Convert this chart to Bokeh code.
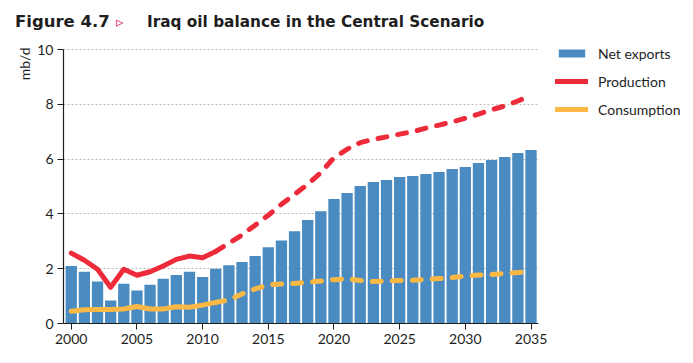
import math
from bokeh.plotting import figure
from bokeh.models import Range1d, Legend, LegendItem, FixedTicker, Title, Div, Grid
from bokeh.layouts import column
from bokeh.embed import file_html
from bokeh.resources import INLINE

years = list(range(2000, 2036))
net_exports = [2.10, 1.89, 1.53, 0.84, 1.45, 1.20, 1.41, 1.63, 1.77, 1.89,
               1.70, 2.00, 2.13, 2.24, 2.46, 2.78, 3.03, 3.37, 3.78, 4.10,
               4.54, 4.76, 5.02, 5.16, 5.24, 5.35, 5.38, 5.46, 5.53, 5.64,
               5.71, 5.86, 5.97, 6.08, 6.22, 6.33]
production = [2.57, 2.31, 1.98, 1.32, 1.98, 1.76, 1.89, 2.10, 2.34, 2.46,
              2.40, 2.63, 2.93, 3.23, 3.59, 3.95, 4.35, 4.71, 5.08, 5.51,
              6.05, 6.36, 6.60, 6.72, 6.81, 6.91, 7.00, 7.13, 7.24, 7.36,
              7.49, 7.64, 7.80, 7.94, 8.12, 8.33]
consumption = [0.45, 0.50, 0.51, 0.51, 0.53, 0.62, 0.53, 0.53, 0.61, 0.59,
               0.67, 0.77, 0.86, 1.08, 1.26, 1.41, 1.44, 1.46, 1.51, 1.55,
               1.60, 1.63, 1.57, 1.53, 1.55, 1.57, 1.58, 1.61, 1.64, 1.68,
               1.73, 1.77, 1.79, 1.83, 1.86, 1.91]
last_historical = 2011
x_ticks = [2000, 2005, 2010, 2015, 2020, 2025, 2030, 2035]
y_ticks = [0, 2, 4, 6, 8, 10]
title_prefix = "Figure 4.7"
title_mark = "\u25b9"
title_text = "Iraq oil balance in the Central Scenario"

BLUE = "#4a8bc2"
RED = "#ee2b3b"
YELLOW = "#fcb844"
TEXT = "#1e1e1e"

W = 693
HT = 38            # title strip height
H = 363 - HT       # main figure height
ML, MR, MT, MB = 63, 3, 3, 40
X0, X1 = 1999.41, 2035.57      # visible axis span
Y0, Y1 = 0, 10
AXIS_PX = 475                  # pixel length of the x axis
YAXIS_PX = 274                 # pixel length of the y axis
FW = W - ML - MR
FH = H - MT - MB
XE = X0 + FW * (X1 - X0) / AXIS_PX
YE = Y0 + FH * (Y1 - Y0) / YAXIS_PX

# ---- title strip ----
span = "position:absolute;top:{top}px;left:{left}px;white-space:nowrap;line-height:16px;"
html = (
    '<div style="position:relative;width:%dpx;height:%dpx;">' % (W, HT)
    + '<span style="' + span.format(top=14, left=15)
    + 'font-family:\'DejaVu Sans\';font-weight:bold;font-size:16.5px;color:%s;">%s</span>' % (TEXT, title_prefix)
    + '<span style="' + span.format(top=14, left=116)
    + 'font-family:\'DejaVu Sans\';font-size:15px;color:#e0306a;">%s</span>' % title_mark
    + '<span style="' + span.format(top=14, left=147)
    + 'font-family:\'DejaVu Sans\';font-weight:bold;font-size:15.3px;color:%s;">%s</span>' % (TEXT, title_text)
    + '</div>'
)
t = Div(text=html, width=W, height=HT, styles={"margin": "0", "padding": "0"})

# ---- main chart ----
p = figure(width=W, height=H, x_range=Range1d(X0, XE), y_range=Range1d(Y0, YE),
           output_backend="svg", toolbar_location=None,
           min_border_left=ML, min_border_right=MR, min_border_top=MT, min_border_bottom=MB)
p.outline_line_color = None

bars = p.vbar(x=years, top=net_exports, width=0.86, color=BLUE, line_color=None)

k = years.index(last_historical)
hist_x = years[:k + 1]
proj_x = years[k:]
r_prod = p.line(hist_x, production[:k + 1], line_color=RED, line_width=5,
                line_cap="round", line_join="round")
p.line(proj_x, production[k:], line_color=RED, line_width=5, line_dash="9 11",
       line_cap="round", line_join="round")
r_cons = p.line(hist_x, consumption[:k + 1], line_color=YELLOW, line_width=5,
                line_cap="round", line_join="round")
p.line(proj_x, consumption[k:], line_color=YELLOW, line_width=5, line_dash="9 11",
       line_cap="round", line_join="round")

for ax in (p.xaxis[0], p.yaxis[0]):
    ax.axis_line_color = TEXT
    ax.axis_line_width = 1.2
    ax.major_tick_line_color = TEXT
    ax.major_tick_out = 6
    ax.major_tick_in = 0
    ax.minor_tick_out = 0
    ax.minor_tick_in = 0
    ax.major_label_text_font = "Lato"
    ax.major_label_text_font_size = "14px"
    ax.major_label_text_color = TEXT
    ax.major_label_standoff = 4
p.xaxis.ticker = FixedTicker(ticks=x_ticks)
p.yaxis.ticker = FixedTicker(ticks=y_ticks)
p.xaxis.bounds = (X0, X1)
p.yaxis.bounds = (Y0, Y1)
p.xgrid.visible = False

if "cross_bounds" in Grid.properties():
    p.ygrid.ticker = FixedTicker(ticks=y_ticks)
    p.ygrid.cross_bounds = (X0, X1)
    p.ygrid.grid_line_color = "#bdbdbd"
    p.ygrid.grid_line_dash = "2 2"
    p.ygrid.grid_line_width = 1
else:
    p.ygrid.visible = False
    p.segment(x0=[X0] * len(y_ticks), x1=[X1] * len(y_ticks), y0=y_ticks, y1=y_ticks,
              line_color="#bdbdbd", line_dash="2 2", line_width=1, level="underlay")

p.add_layout(Title(text="mb/d", align="right", text_font="Lato", text_font_size="14px",
                   text_font_style="normal", text_color=TEXT, standoff=4, offset=6), "left")

legend = Legend(items=[LegendItem(label="Net exports", renderers=[bars]),
                       LegendItem(label="Production", renderers=[r_prod]),
                       LegendItem(label="Consumption", renderers=[r_cons])],
                location=(492, 204), padding=0, margin=0, spacing=8,
                glyph_width=33, glyph_height=10, label_height=20, label_standoff=10,
                label_text_font="Lato", label_text_font_size="14px", label_text_color=TEXT,
                border_line_color=None, background_fill_alpha=0)
p.add_layout(legend, "center")

layout = column(t, p, spacing=0)
open("out.html", "w").write(file_html(layout, INLINE))
